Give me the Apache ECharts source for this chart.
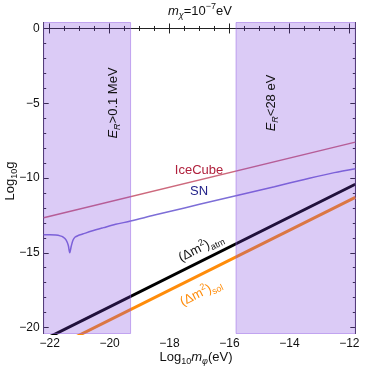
<!DOCTYPE html>
<html>
<head>
<meta charset="utf-8">
<script src="https://cdn.jsdelivr.net/npm/echarts@6/dist/echarts.min.js"></script>
<style>html,body{margin:0;padding:0;background:#fff}#c{width:374px;height:370px}</style>
</head>
<body>
<div id="c"></div>
<script>
// ---- data ----
var xRange = [-22.2, -11.8];
var yRange = [-20.4, 0.4];
var xMajor = [-22, -20, -18, -16, -14, -12];
var xMinor = [-21.5, -21, -20.5, -19.5, -19, -18.5, -17.5, -17, -16.5, -15.5, -15, -14.5, -13.5, -13, -12.5];
var yMajor = [-20, -15, -10, -5, 0];
var yMinor = [-19, -18, -17, -16, -14, -13, -12, -11, -9, -8, -7, -6, -4, -3, -2, -1];

var iceX = [-22.2, -11.8];
var iceY = [-12.66, -7.6];

var snX = [-22.2, -22.0, -21.8, -21.65, -21.55, -21.45, -21.38, -21.33, -21.28, -21.22, -21.15, -21.05, -20.9, -20.6, -20.2, -19.8, -19.3, -18.5, -17.5, -16.5, -15.5, -14.5, -13.5, -12.5, -11.8];
var snY = [-13.8, -13.8, -13.82, -13.87, -13.95, -14.15, -14.5, -15.0, -14.55, -14.15, -13.95, -13.85, -13.75, -13.55, -13.32, -13.1, -12.88, -12.48, -12.0, -11.52, -11.05, -10.58, -10.1, -9.64, -9.38];

var atmX = [-22.2, -11.8];
var atmY = [-20.82, -10.42];

var solX = [-22.2, -11.8];
var solY = [-21.7, -11.3];

var bandLeft = [-22.2, -19.3];
var bandRight = [-15.78, -11.8];

function pairs(xs, ys) { return xs.map(function (x, i) { return [x, ys[i]]; }); }
function minus(v) { return String(v).replace('-', '\u2212'); }

var FONT = '"Liberation Sans", Arial, sans-serif';
var AX = '#222';
var ORANGE = 'rgb(255,140,10)';

function xAx(pos, vals, len, labels, line) {
  return {
    type: 'value', position: pos, min: xRange[0], max: xRange[1],
    axisLine: { show: line, lineStyle: { color: AX, width: 1 } },
    splitLine: { show: false },
    axisTick: { show: true, inside: true, length: len, customValues: vals, lineStyle: { color: AX, width: 1 } },
    axisLabel: { show: labels, customValues: vals, margin: 4, color: '#111', fontSize: 12, fontFamily: FONT, formatter: minus }
  };
}
function yAx(pos, vals, len, labels, line) {
  return {
    type: 'value', position: pos, min: yRange[0], max: yRange[1],
    axisLine: { show: line, lineStyle: { color: AX, width: 1 } },
    splitLine: { show: false },
    axisTick: { show: true, inside: true, length: len, customValues: vals, lineStyle: { color: AX, width: 1 } },
    axisLabel: { show: labels, customValues: vals, margin: 4, color: '#111', fontSize: 12, fontFamily: FONT, formatter: minus }
  };
}

var chart = echarts.init(document.getElementById('c'), null, { renderer: 'canvas' });

function rt(extra) { return Object.assign({ fontFamily: FONT, fontSize: 13, fill: '#111' }, extra); }

chart.setOption({
  animation: false,
  backgroundColor: '#fff',
  grid: { left: 43.7, right: 18.7, top: 22.5, bottom: 36.5, containLabel: false },
  xAxis: [
    xAx('bottom', xMajor, 5, true, true),
    xAx('bottom', xMinor, 2.5, false, false),
    xAx('top', xMajor, 5, false, true),
    xAx('top', xMinor, 2.5, false, false)
  ],
  yAxis: [
    yAx('left', yMajor, 5, true, true),
    yAx('left', yMinor, 2.5, false, false),
    yAx('right', yMajor, 5, false, true),
    yAx('right', yMinor, 2.5, false, false)
  ],
  series: [
    { name: 'IceCube', type: 'line', z: 1, data: pairs(iceX, iceY), showSymbol: false, symbol: 'none', clip: true,
      lineStyle: { color: 'rgb(205,105,125)', width: 1.5 } },
    { name: 'SN', type: 'line', z: 1, data: pairs(snX, snY), showSymbol: false, symbol: 'none', smooth: 0.3, clip: true,
      lineStyle: { color: 'rgb(125,110,215)', width: 1.5 } },
    { name: 'atm', type: 'line', z: 1, data: pairs(atmX, atmY), showSymbol: false, symbol: 'none', clip: true,
      lineStyle: { color: '#000', width: 3 } },
    { name: 'sol', type: 'line', z: 1, data: pairs(solX, solY), showSymbol: false, symbol: 'none', clip: true,
      lineStyle: { color: ORANGE, width: 3 } },
    { name: 'bands', type: 'line', z: 5, data: [], symbol: 'none',
      markArea: {
        silent: true, z: 5,
        itemStyle: { color: 'rgba(122,62,222,0.27)', borderColor: 'rgba(150,100,230,0.5)', borderWidth: 1 },
        data: [
          [{ xAxis: bandLeft[0] }, { xAxis: bandLeft[1] }],
          [{ xAxis: bandRight[0] }, { xAxis: bandRight[1] }]
        ]
      }
    }
  ],
  graphic: [
    { type: 'text', x: 200, y: 11, z: 100, style: rt({ align: 'center', verticalAlign: 'middle',
      text: '{i|m}{sb|χ}{n|=10}{sp|−7}{n|eV}',
      rich: { i: rt({ fontStyle: 'italic', lineHeight: 18 }), n: rt({ lineHeight: 18 }),
              sb: rt({ fontStyle: 'italic', fontSize: 9, verticalAlign: 'bottom', lineHeight: 18 }),
              sp: rt({ fontSize: 9, verticalAlign: 'top', lineHeight: 18 }) } }) },
    { type: 'text', x: 196, y: 357, z: 100, style: rt({ align: 'center', verticalAlign: 'middle',
      text: '{n|Log}{sb|10}{i|m}{sbi|φ}{n|(eV)}',
      rich: { i: rt({ fontStyle: 'italic', lineHeight: 18 }), n: rt({ lineHeight: 18 }),
              sb: rt({ fontSize: 9, verticalAlign: 'bottom', lineHeight: 18 }),
              sbi: rt({ fontStyle: 'italic', fontSize: 9, verticalAlign: 'bottom', lineHeight: 18 }) } }) },
    { type: 'text', x: 10, y: 181, rotation: Math.PI / 2, z: 100, style: rt({ align: 'center', verticalAlign: 'middle',
      text: '{n|Log}{sb|10}{n|g}',
      rich: { n: rt({ lineHeight: 18 }), sb: rt({ fontSize: 9, verticalAlign: 'bottom', lineHeight: 18 }) } }) },
    { type: 'text', x: 113, y: 103, rotation: Math.PI / 2, z: 100, style: rt({ align: 'center', verticalAlign: 'middle',
      text: '{i|E}{sbi|R}{n|>0.1 MeV}',
      rich: { i: rt({ fontStyle: 'italic', lineHeight: 18 }), n: rt({ lineHeight: 18 }),
              sbi: rt({ fontStyle: 'italic', fontSize: 9, verticalAlign: 'bottom', lineHeight: 18 }) } }) },
    { type: 'text', x: 271, y: 103, rotation: Math.PI / 2, z: 100, style: rt({ align: 'center', verticalAlign: 'middle',
      text: '{i|E}{sbi|R}{n|<28 eV}',
      rich: { i: rt({ fontStyle: 'italic', lineHeight: 18 }), n: rt({ lineHeight: 18 }),
              sbi: rt({ fontStyle: 'italic', fontSize: 9, verticalAlign: 'bottom', lineHeight: 18 }) } }) },
    { type: 'text', x: 199, y: 170, z: 100, style: rt({ text: 'IceCube', fill: '#b0203c', align: 'center', verticalAlign: 'middle' }) },
    { type: 'text', x: 199, y: 191, z: 100, style: rt({ text: 'SN', fill: '#23238a', align: 'center', verticalAlign: 'middle' }) },
    { type: 'text', x: 201, y: 248, rotation: 0.455, z: 100, style: rt({ align: 'center', verticalAlign: 'middle',
      text: '{n|(Δm}{sp|2}{n|)}{sb|atm}',
      rich: { n: rt({ lineHeight: 18 }), sp: rt({ fontSize: 9, verticalAlign: 'top', lineHeight: 18 }),
              sb: rt({ fontSize: 9, verticalAlign: 'bottom', lineHeight: 18 }) } }) },
    { type: 'text', x: 201, y: 293, rotation: 0.455, z: 100, style: rt({ align: 'center', verticalAlign: 'middle', fill: ORANGE,
      text: '{n|(Δm}{sp|2}{n|)}{sb|sol}',
      rich: { n: rt({ lineHeight: 18, fill: ORANGE }), sp: rt({ fontSize: 9, verticalAlign: 'top', lineHeight: 18, fill: ORANGE }),
              sb: rt({ fontSize: 9, verticalAlign: 'bottom', lineHeight: 18, fill: ORANGE }) } }) }
  ]
});
</script>
</body>
</html>
